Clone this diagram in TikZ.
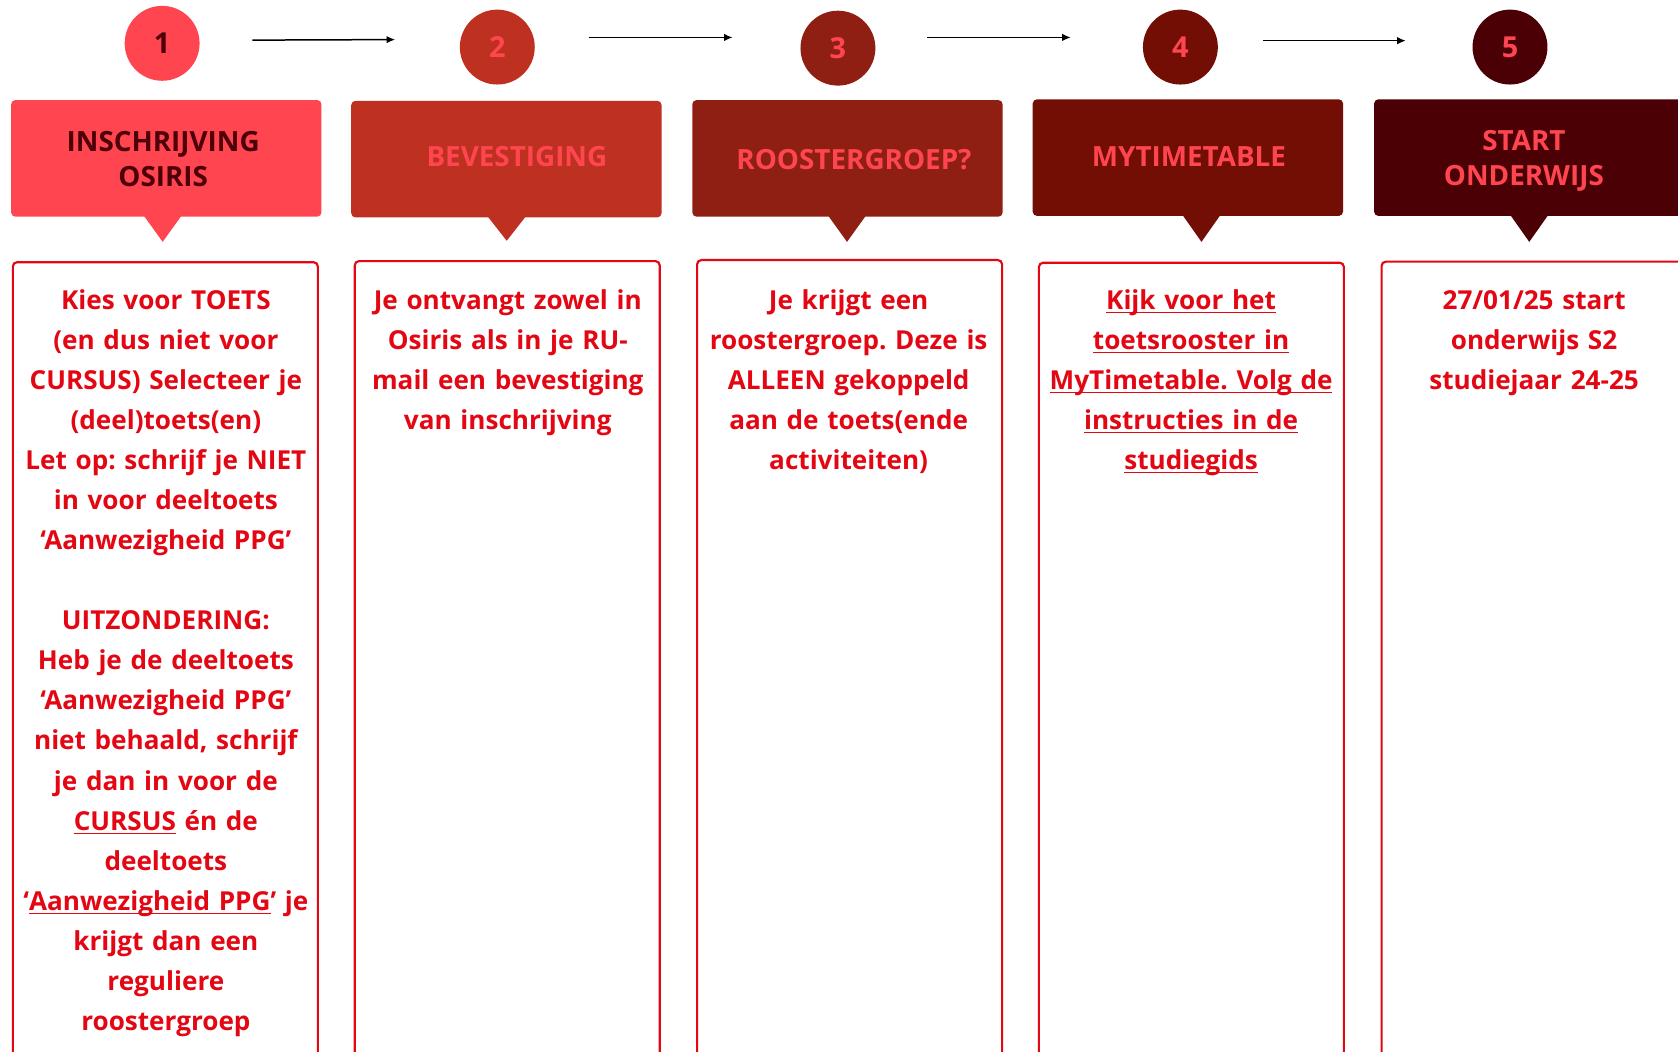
\documentclass[tikz,border=0pt]{standalone}
\usepackage{fontspec}
\setmainfont{Open Sans}
\usepackage{xcolor}
\usepackage{tikz}
\usetikzlibrary{scopes,arrows.meta}

\definecolor{stap1}{HTML}{FF4550}
\definecolor{stap2}{HTML}{BE3020}
\definecolor{stap3}{HTML}{8F1F13}
\definecolor{stap4}{HTML}{730E05}
\definecolor{stap5}{HTML}{4B0006}
\definecolor{donker}{HTML}{4D0008}
\definecolor{rood}{HTML}{E30613}

\newcommand{\onder}[1]{\underline{\raisebox{0pt}[\height][0pt]{#1}}}
\frenchspacing

\begin{document}
\begin{tikzpicture}[x=0.5pt,y=-0.5pt,
      nr/.style={circle,minimum size=35pt,inner sep=0pt,font=\fontsize{13.5}{16}\selectfont\bfseries,text=stap1},
      kop/.style={rounded corners=2pt,minimum width=145pt,minimum height=54.5pt,inner sep=0pt},
      koptekst/.style={align=center,inner sep=0pt,font=\fontsize{13}{16.35}\selectfont\bfseries,text=stap1},
      vak/.style={draw=rood,line width=1pt,rounded corners=2pt,minimum width=142.5pt,minimum height=380pt,anchor=north,inner sep=0pt},
      uitleg/.style={anchor=north,align=center,text width=160pt,inner sep=0pt,text=rood,font=\fontsize{12.2}{18.7}\selectfont\bfseries},
      pijl/.style={-{Latex[length=4pt,width=3.5pt]},line width=0.7pt,black}
]
      \useasboundingbox (0,0) rectangle (1568,983);
      \clip (0,0) rectangle (1568,983);

      % stappen
      \node[nr,fill=stap1,text=donker] at (151.5,40.5) (c1) {1};
      \node[nr,fill=stap2] at (464.7,44) (c2) {2};
      \node[nr,fill=stap3] at (783,45) (c3) {3};
      \node[nr,fill=stap4] at (1103,44) (c4) {4};
      \node[nr,fill=stap5] at (1411,44) (c5) {5};
      {[pijl]
          \draw ([shift={(49,-3)}]c1.east) -- ([shift={(-60,-7)}]c2.west);
          \draw ([shift={(50,-9)}]c2.east) -- ([shift={(-63,-10)}]c3.west);
          \draw ([shift={(48,-10)}]c3.east) -- ([shift={(-67,-9)}]c4.west);
          \draw ([shift={(42,-6)}]c4.east) -- ([shift={(-62,-6)}]c5.west);
      }

      % koppen
      \node[kop,fill=stap1] at (155.4,148) (h1) {};
      \fill[stap1] (134,201) -- (170,201) -- (152,226) -- cycle;
      \node[koptekst,text=donker] at (152.5,148.7) (l1) {INSCHRIJVING\\OSIRIS};
      \node[kop,fill=stap2] at (473.2,148.7) (h2) {};
      \fill[stap2] (455.5,202) -- (491.5,202) -- (473.5,225) -- cycle;
      \node[koptekst] at (483,146.4) (l2) {BEVESTIGING};
      \node[kop,fill=stap3] at (791.9,148) (h3) {};
      \fill[stap3] (773.5,201) -- (809.5,201) -- (791.5,226) -- cycle;
      \node[koptekst] at (798,149.6) (l3) {ROOSTERGROEP?};
      \node[kop,fill=stap4] at (1110,147.3) (h4) {};
      \fill[stap4] (1104.7,200.5) -- (1140.7,200.5) -- (1122.7,226) -- cycle;
      \node[koptekst] at (1111,146.4) (l4) {MYTIMETABLE};
      \node[kop,fill=stap5] at (1429,147.3) (h5) {};
      \fill[stap5] (1411,200.5) -- (1447,200.5) -- (1429,226) -- cycle;
      \node[koptekst] at (1424,150) (l5) {START\\ONDERWIJS};

      % uitleg
      \node[vak] at (154.5,244) (b1) {};
      \node[uitleg] at (155,270.5) (u1) {Kies voor TOETS\\
          (en dus niet voor\\
          CURSUS) Selecteer je\\
          (deel)toets(en)\\
          Let op: schrijf je NIET\\
          in voor deeltoets\\
          ‘Aanwezigheid PPG’\\[18.7pt]
          UITZONDERING:\\
          Heb je de deeltoets\\
          ‘Aanwezigheid PPG’\\
          niet behaald, schrijf\\
          je dan in voor de\\
          \onder{CURSUS} én de\\
          deeltoets\\
          ‘\onder{Aanwezigheid PPG}’ je\\
          krijgt dan een\\
          reguliere\\
          roostergroep};
      \node[vak] at (474,243) (b2) {};
      \node[uitleg] at (474.5,270.5) (u2) {Je ontvangt zowel in\\
          Osiris als in je RU-\\
          mail een bevestiging\\
          van inschrijving};
      \node[vak] at (793.9,242) (b3) {};
      \node[uitleg] at (793,270.5) (u3) {Je krijgt een\\
          roostergroep. Deze is\\
          ALLEEN gekoppeld\\
          aan de toets(ende\\
          activiteiten)};
      \node[vak] at (1113.3,244.5) (b4) {};
      \node[uitleg] at (1113,270.5) (u4) {\onder{Kijk voor het}\\
          \onder{toetsrooster in}\\
          \onder{MyTimetable. Volg de}\\
          \onder{instructies in de}\\
          \onder{studiegids}};
      \node[vak] at (1433.5,243.5) (b5) {};
      \node[uitleg] at (1433.5,271.5) (u5) {27/01/25 start\\
          onderwijs S2\\
          studiejaar 24-25};
\end{tikzpicture}
\end{document}
